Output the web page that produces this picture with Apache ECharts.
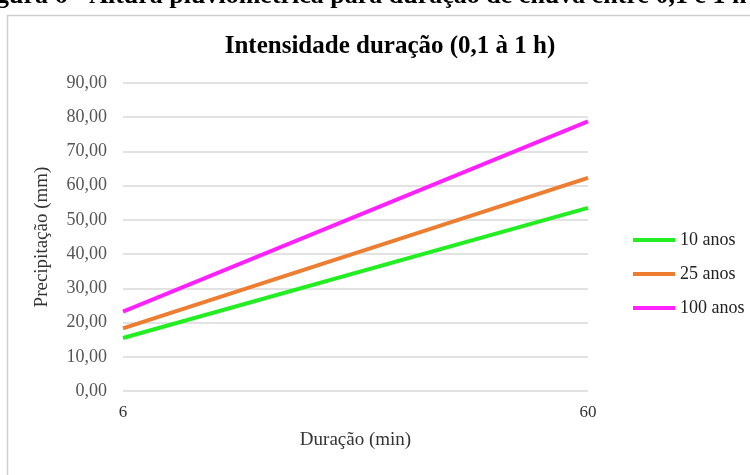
<!DOCTYPE html>
<html><head><meta charset="utf-8">
<script src="https://cdn.jsdelivr.net/npm/echarts@6/dist/echarts.min.js"></script>
<style>html,body{margin:0;padding:0;background:#fff}#c{width:750px;height:475px}</style>
</head><body><div id="c"></div>
<script>
const categories = ['6', '60'];
const series10 = [15.5, 53.5];
const series25 = [18.3, 62.3];
const series100 = [23.2, 78.8];
const seriesNames = ['10 anos', '25 anos', '100 anos'];
const colors = ['#22ee22', '#ed7d31', '#ff22ff'];

const chart = echarts.init(document.getElementById('c'));
const serif = 'Liberation Serif';
chart.setOption({
  animation: false,
  graphic: [
    {type: 'rect', shape: {x: 7.5, y: 15.5, width: 760, height: 480}, style: {fill: 'none', stroke: '#d0d0d0', lineWidth: 1.5}, z: -1},
    {type: 'text', left: -4, top: -17, style: {text: 'gura 6 - Altura pluviométrica para duração de chuva entre 0,1 e 1 h', font: 'bold 26px "Liberation Serif"', fill: '#000'}}
  ],
  title: {
    text: 'Intensidade duração (0,1 à 1 h)', left: 385, top: 29, textAlign: 'center',
    textStyle: {fontFamily: serif, fontWeight: 'bold', fontSize: 25, color: '#000'}
  },
  legend: {
    orient: 'vertical', left: 628, top: 226, itemWidth: 42, itemHeight: 4, itemGap: 16,
    icon: 'rect',
    textStyle: {fontFamily: serif, fontSize: 18, color: '#222'},
    data: seriesNames
  },
  grid: {left: 123, right: 162, top: 83, bottom: 84},
  xAxis: {
    type: 'category', data: categories, boundaryGap: false,
    name: 'Duração (min)', nameLocation: 'middle', nameGap: 40,
    nameTextStyle: {fontFamily: serif, fontSize: 19, color: '#333'},
    axisLine: {show: false}, axisTick: {show: false},
    axisLabel: {fontFamily: serif, fontSize: 17, color: '#333', margin: 13}
  },
  yAxis: {
    type: 'value', min: 0, max: 90, interval: 10,
    name: 'Precipitação (mm)', nameLocation: 'middle', nameGap: 71,
    nameTextStyle: {fontFamily: serif, fontSize: 19, color: '#333'},
    axisLine: {show: false}, axisTick: {show: false},
    axisLabel: {fontFamily: serif, fontSize: 18, color: '#555', margin: 16,
      formatter: v => v.toFixed(2).replace('.', ',')},
    splitLine: {lineStyle: {color: '#d9d9d9', width: 1.5}}
  },
  series: [series10, series25, series100].map((d, i) => ({
    name: seriesNames[i], type: 'line', data: d, symbol: 'none',
    lineStyle: {color: colors[i], width: 4}, itemStyle: {color: colors[i]}
  }))
});
</script></body></html>
